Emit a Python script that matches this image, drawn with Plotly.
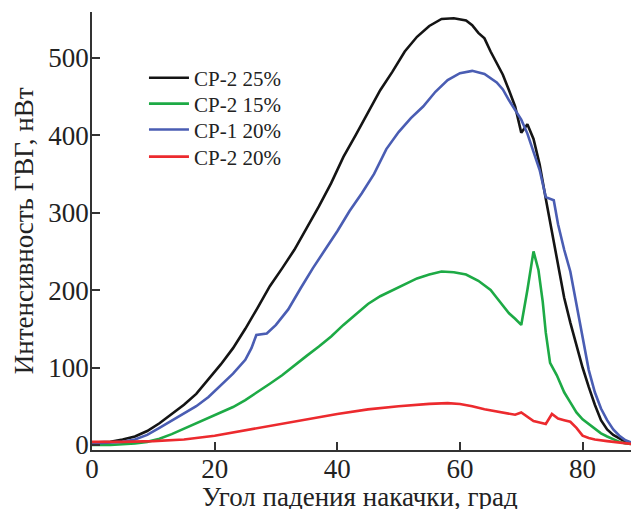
import plotly.graph_objects as go

# CP-2 25%
black_x = [0, 3, 5, 7, 9, 11, 13, 15, 17, 19, 21, 23, 25, 27, 29, 31, 33, 35, 37, 39,
           41, 43, 45, 47, 49, 51, 53, 55, 57, 59, 61, 62, 63, 64, 65, 66, 67, 68, 69, 70,
           71, 72, 73, 74, 75, 76, 77, 78, 79, 80, 81, 82, 83, 84, 85, 86, 87, 88, 89.5]
black_y = [3, 4, 7, 11, 18, 28, 40, 52, 66, 85, 104, 125, 150, 177, 205, 228, 252, 280, 308, 338,
           372, 400, 430, 458, 482, 508, 527, 541, 550, 551, 548, 542, 532, 525, 508, 493, 478, 458, 437, 403,
           414, 395, 362, 318, 275, 235, 190, 158, 128, 100, 75, 52, 32, 20, 13, 8, 4, 2, 1]

# CP-2 15%
green_x = [0, 3, 5, 7, 9, 11, 13, 15, 17, 19, 21, 23, 25, 27, 29, 31, 33, 35, 37, 39,
           41, 43, 45, 47, 49, 51, 53, 55, 57, 59, 61, 63, 65, 66, 67, 68, 69, 70, 71, 72,
           72.8, 73.5, 74, 74.7, 75.8, 77, 78, 79, 80, 81, 82, 83, 84, 85, 86, 87, 88, 89.5]
green_y = [0, 0, 1, 2, 4, 8, 14, 21, 28, 35, 42, 49, 58, 68, 79, 90, 103, 115, 127, 140,
           155, 168, 182, 192, 200, 208, 215, 220, 224, 223, 220, 212, 200, 190, 180, 170, 163, 155, 200, 250,
           226, 185, 145, 106, 90, 68, 55, 42, 33, 27, 21, 15, 11, 7, 4, 2, 1, 0]

# CP-1 20%
blue_x = [0, 3, 5, 7, 9, 11, 13, 15, 17, 19, 21, 23, 25, 26, 26.8, 28.5, 30, 32, 34, 36,
          38, 40, 42, 44, 46, 48, 50, 52, 54, 56, 58, 60, 62, 64, 66, 67, 68, 69, 70, 71,
          72, 73, 74, 75.3, 76, 77, 78, 79, 80, 81, 82, 83, 84, 85, 86, 87, 88, 89.5]
blue_y = [2, 3, 4, 7, 13, 22, 31, 40, 50, 62, 77, 92, 110, 125, 142, 144, 155, 175, 202, 228,
          252, 276, 302, 325, 350, 382, 404, 422, 437, 456, 471, 480, 483, 479, 468, 459, 445, 433, 420, 402,
          378, 355, 320, 316, 285, 252, 224, 180, 140, 97, 68, 47, 32, 20, 12, 6, 3, 1]

# CP-2 20%
red_x = [0, 5, 10, 15, 20, 25, 30, 35, 40, 45, 50, 55, 58, 60, 62, 64, 66, 68, 69, 70,
         71, 72, 73, 74, 75, 76, 77, 78, 79, 80, 81, 82, 84, 86, 88, 89.5]
red_y = [4, 4, 5, 7, 12, 19, 26, 33, 40, 46, 50, 53, 54, 53, 50, 46, 43, 40, 39, 42,
         36, 31, 29, 27, 40, 34, 32, 30, 22, 12, 9, 7, 5, 3, 1, 0]

series = [
    ("CP-2 25%", black_x, black_y, "#141414"),
    ("CP-2 15%", green_x, green_y, "#1daa45"),
    ("CP-1 20%", blue_x, blue_y, "#4a5db3"),
    ("CP-2 20%", red_x, red_y, "#ec2a2e"),
]

x_ticks = [0, 20, 40, 60, 80]
y_ticks = [0, 100, 200, 300, 400, 500]

FONT = "Liberation Serif"
legend_rows = [0.849, 0.790, 0.731, 0.669]

fig = go.Figure()
for i, (name, xs, ys, color) in enumerate(series):
    leg = "legend" if i == 0 else f"legend{i + 1}"
    fig.add_trace(go.Scatter(x=xs, y=ys, name=name, mode="lines", legend=leg,
                             line=dict(color=color, width=2.6)))

legends = {}
for i, ly in enumerate(legend_rows):
    key = "legend" if i == 0 else f"legend{i + 1}"
    legends[key] = dict(x=0.095, y=ly, xanchor="left", yanchor="middle",
                        bgcolor="rgba(0,0,0,0)", font=dict(size=21, family=FONT),
                        itemwidth=40)

# the page body adds ~8px offset, so margins are shifted to compensate
fig.update_layout(
    width=639, height=509,
    margin=dict(l=84, r=8, t=4, b=67),
    paper_bgcolor="white", plot_bgcolor="white",
    font=dict(family=FONT, color="#222", size=27),
    showlegend=True,
    annotations=[
        dict(text="Угол падения накачки, град", xref="paper", yref="paper",
             x=0.49, y=-0.107, xanchor="center", yanchor="middle", showarrow=False,
             font=dict(size=27, family=FONT)),
        dict(text="Интенсивность ГВГ, нВт", xref="paper", yref="paper",
             x=-0.124, y=0.5, xanchor="center", yanchor="middle", textangle=-90,
             showarrow=False, font=dict(size=27, family=FONT)),
    ],
    **legends,
)
fig.update_xaxes(range=[0, 89.2], tickvals=x_ticks, ticks="inside", ticklen=8,
                 tickwidth=1.5, tickcolor="#333", showline=True, linecolor="#333",
                 linewidth=1.5, showgrid=False, zeroline=False, ticklabelstandoff=-6)
fig.update_yaxes(range=[-6.5, 559], tickvals=y_ticks, ticks="inside", ticklen=8,
                 tickwidth=1.5, tickcolor="#333", showline=True, linecolor="#333",
                 linewidth=1.5, showgrid=False, zeroline=False, ticklabelstandoff=-4)

fig.write_html("out.html")
